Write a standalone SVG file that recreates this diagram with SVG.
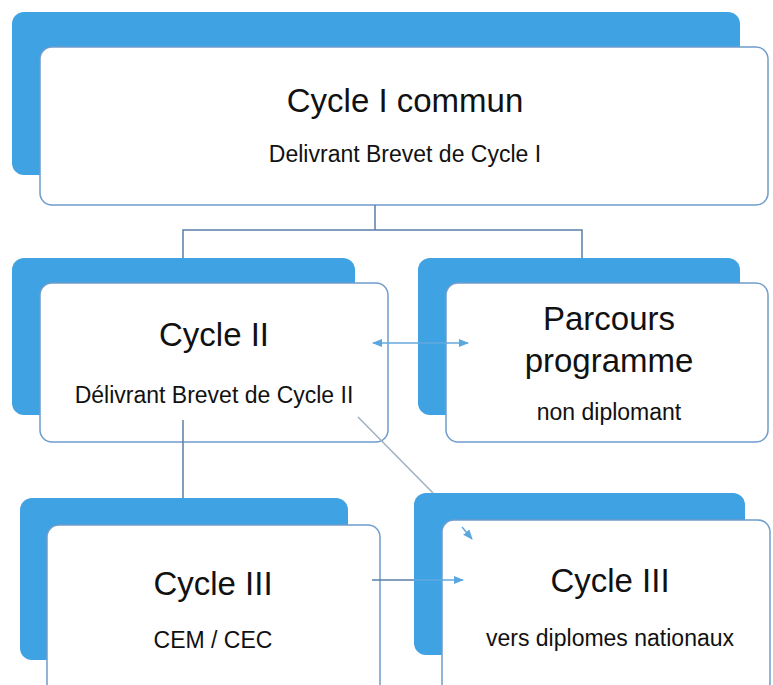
<svg xmlns="http://www.w3.org/2000/svg" width="773" height="685" viewBox="0 0 773 685">
<defs>
<style>
.back{fill:#3fa2e2;}
.front{fill:#ffffff;stroke:#6f9ccc;stroke-width:1.5;}
.t{font-family:"Liberation Sans",Arial,sans-serif;font-size:33px;fill:#111;text-anchor:middle;}
.s{font-family:"Liberation Sans",Arial,sans-serif;font-size:23px;fill:#111;text-anchor:middle;}
.tree{fill:none;stroke:#5a7fa6;stroke-width:1.5;}
.arr{fill:none;stroke:#63a9df;stroke-width:1.5;}
.diag{fill:none;stroke:#9fb0c2;stroke-width:1.5;}
</style>
<marker id="ah" viewBox="0 0 10 10" refX="9" refY="5" markerWidth="10" markerHeight="10" orient="auto-start-reverse" markerUnits="userSpaceOnUse">
<path d="M0,1 L10,5 L0,9 Z" fill="#5aa7e0"/>
</marker>
</defs>
<rect width="773" height="685" fill="#ffffff"/>
<g id="node-cycle1">
<rect class="back" x="12" y="12" width="728" height="163" rx="12"/>
<rect class="front" x="40" y="47" width="728" height="158" rx="12"/>
<text class="t" x="405" y="112">Cycle I commun</text>
<text class="s" x="405" y="162">Delivrant Brevet de Cycle I</text>
</g>
<g id="node-cycle2">
<rect class="back" x="12" y="258" width="343" height="157" rx="12"/>
<rect class="front" x="40" y="283" width="348" height="159" rx="12"/>
<text class="t" x="214" y="346">Cycle II</text>
<text class="s" x="214" y="403">Délivrant Brevet de Cycle II</text>
</g>
<g id="node-parcours">
<rect class="back" x="418" y="258" width="322" height="157" rx="12"/>
<rect class="front" x="446" y="283" width="322" height="159" rx="12"/>
<text class="t" x="609" y="330">Parcours</text>
<text class="t" x="609" y="372">programme</text>
<text class="s" x="609" y="420">non diplomant</text>
</g>
<g id="node-cycle3-cem">
<rect class="back" x="20" y="498" width="328" height="162" rx="12"/>
<rect class="front" x="47" y="525" width="333" height="175" rx="12"/>
<text class="t" x="213" y="595">Cycle III</text>
<text class="s" x="213" y="648">CEM / CEC</text>
</g>
<g id="node-cycle3-nat">
<rect class="back" x="414" y="493" width="331" height="162" rx="12"/>
<rect class="front" x="442" y="520" width="328" height="175" rx="12"/>
<text class="t" x="610" y="592">Cycle III</text>
<text class="s" x="610" y="646">vers diplomes nationaux</text>
</g>
<g id="connectors">
<path class="tree" d="M375,205 V230 M183,258 V230 H582 V258"/>
<path class="tree" d="M183,420 V498"/>
<path class="arr" d="M373,343 H468" marker-start="url(#ah)" marker-end="url(#ah)"/>
<path class="diag" d="M358,417 L433,493"/>
<path class="arr" d="M462,527 L472,539" marker-end="url(#ah)"/>
<path class="tree" d="M372,580 H414"/>
<path class="arr" d="M414,580 H463" marker-end="url(#ah)"/>
</g>
</svg>
